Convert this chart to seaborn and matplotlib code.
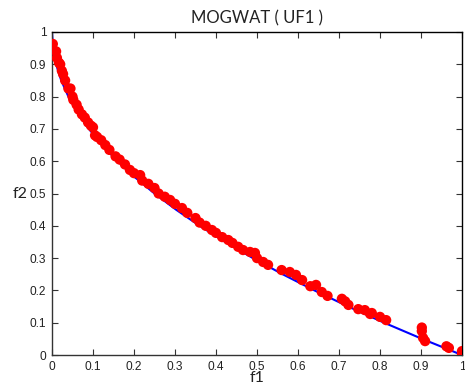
import matplotlib
matplotlib.use("Agg")
import matplotlib.pyplot as plt
import seaborn as sns
import pandas as pd

# True Pareto front (blue line)
front_f1 = [0.0, 0.0025, 0.01, 0.0225, 0.04, 0.0625, 0.09, 0.1225, 0.16, 0.2025, 0.25,
            0.3025, 0.36, 0.4225, 0.49, 0.5625, 0.64, 0.7225, 0.81, 0.9025, 1.0]
front_f2 = [1.0, 0.95, 0.90, 0.85, 0.80, 0.75, 0.70, 0.65, 0.60, 0.55, 0.50,
            0.45, 0.40, 0.35, 0.30, 0.25, 0.20, 0.15, 0.10, 0.05, 0.0]

# Obtained solutions (red points)
sol_f1 = [0.002, 0.010, 0.012, 0.017, 0.020, 0.024, 0.027, 0.032, 0.040, 0.045,
          0.050, 0.052, 0.060, 0.065, 0.073, 0.080, 0.088, 0.095, 0.100, 0.105,
          0.110, 0.120, 0.130, 0.140, 0.155, 0.165, 0.178, 0.190, 0.200, 0.215,
          0.220, 0.235, 0.250, 0.260, 0.275, 0.288, 0.300, 0.317, 0.330, 0.350,
          0.360, 0.375, 0.390, 0.400, 0.415, 0.430, 0.440, 0.454, 0.466, 0.483,
          0.495, 0.500, 0.515, 0.527, 0.560, 0.580, 0.595, 0.610, 0.630, 0.644,
          0.658, 0.672, 0.707, 0.715, 0.723, 0.747, 0.763, 0.776, 0.780, 0.800,
          0.815, 0.902, 0.902, 0.905, 0.910, 0.962, 0.968, 1.000, 1.000]
sol_f2 = [0.963, 0.940, 0.920, 0.905, 0.900, 0.880, 0.870, 0.850, 0.825, 0.825,
          0.800, 0.790, 0.775, 0.760, 0.745, 0.735, 0.720, 0.710, 0.705, 0.680,
          0.675, 0.665, 0.650, 0.635, 0.615, 0.605, 0.590, 0.573, 0.563, 0.557,
          0.540, 0.530, 0.517, 0.500, 0.490, 0.480, 0.468, 0.455, 0.440, 0.424,
          0.410, 0.400, 0.387, 0.378, 0.365, 0.356, 0.347, 0.335, 0.325, 0.319,
          0.316, 0.300, 0.288, 0.279, 0.263, 0.257, 0.248, 0.232, 0.213, 0.217,
          0.195, 0.183, 0.174, 0.166, 0.155, 0.142, 0.139, 0.127, 0.130, 0.118,
          0.108, 0.085, 0.074, 0.053, 0.043, 0.027, 0.022, 0.012, 0.002]

ticks = [0, 0.1, 0.2, 0.3, 0.4, 0.5, 0.6, 0.7, 0.8, 0.9, 1]
tick_labels = ["0", "0.1", "0.2", "0.3", "0.4", "0.5", "0.6", "0.7", "0.8", "0.9", "1"]

sns.set_style("ticks")
plt.rcParams['font.family'] = ['Liberation Sans', 'DejaVu Sans']

fig = plt.figure(figsize=(4.65, 3.86), dpi=100)
ax = fig.add_axes([52/465, 31/386, 410/465, 323/386])

front = pd.DataFrame({"f1": front_f1, "f2": front_f2})
sol = pd.DataFrame({"f1": sol_f1, "f2": sol_f2})

sns.lineplot(data=front, x="f1", y="f2", color="#0000ff", linewidth=1.5, ax=ax, sort=False)
sns.scatterplot(data=sol, x="f1", y="f2", color="#ff0000", s=55, edgecolor="none", ax=ax, zorder=3)

ax.set_xlim(0, 1)
ax.set_ylim(0, 1)
ax.set_xticks(ticks)
ax.set_yticks(ticks)
ax.set_xticklabels(tick_labels)
ax.set_yticklabels(tick_labels)
ax.tick_params(direction="in", length=4, width=0.8, top=True, right=True,
               labelsize=8.6, colors="#333333", labelcolor="#222222", pad=4)
for sp in ax.spines.values():
    sp.set_visible(True)
    sp.set_color("#333333")
    sp.set_linewidth(1.0)
ax.spines["right"].set_color("#000000")
ax.spines["top"].set_color("#000000")

ax.set_xlabel("f1", fontsize=11.5, family=["Lato", "DejaVu Sans"], color="#222222", labelpad=-1)
ax.set_ylabel("f2", fontsize=11.5, family=["Lato", "DejaVu Sans"], color="#222222",
              rotation=0, labelpad=7, va="center")
ax.set_title("MOGWAT ( UF1 )", fontsize=12, family=["Lato", "DejaVu Sans"], color="#222222", pad=6)

fig.savefig("out.png", dpi=100)
